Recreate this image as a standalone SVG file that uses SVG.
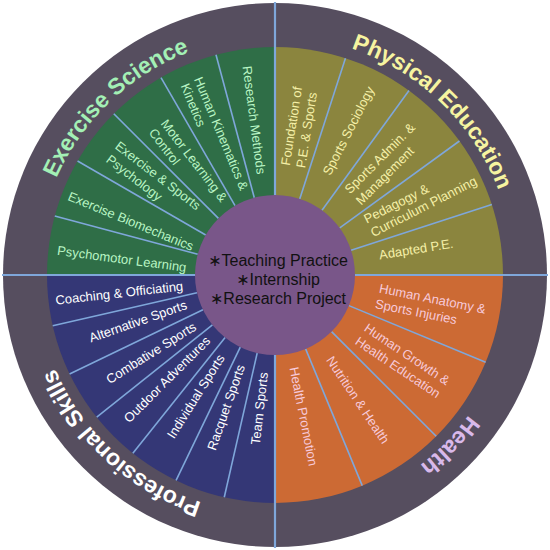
<svg xmlns="http://www.w3.org/2000/svg" width="550" height="550" viewBox="0 0 550 550">
<style>
.lbl{font-family:"Liberation Sans",Arial,sans-serif;font-size:13px}
.ttl{font-family:"Liberation Sans",Arial,sans-serif;font-size:23px;font-weight:bold}
.g{fill:#b9f5c4}.o{fill:#f5f0a8}.n{fill:#ffffff}.r{fill:#f7c9da}
.div{stroke:#7fa7da;stroke-width:1.6}
.cross{stroke:#7fa7da;stroke-width:2.2}
.ctr{font-family:"Liberation Sans","DejaVu Sans",Arial,sans-serif;font-size:16px;fill:#111}
</style>
<defs>
<path id="ring" d="M514,275 A239,239 0 1 1 36,275 A239,239 0 1 1 514,275"/>
</defs>
<rect width="550" height="550" fill="#ffffff"/>
<circle id="outer-ring" cx="275" cy="275" r="272" fill="#564e5f"/>

<g id="exercise-science">
<path d="M275,275 L47,275 A228,228 0 0 1 275,47 Z" fill="#2f6e47"/>
<text class="ttl" fill="#a3f0b5"><textPath href="#ring" startOffset="62.9%" text-anchor="middle">Exercise Science</textPath></text>
<g transform="translate(275 275)">
<text class="lbl g" transform="rotate(7.5)" x="-219" y="8.5">Psychomotor Learning</text>
<text class="lbl g" transform="rotate(22.5)" x="-221" y="10">Exercise Biomechanics</text>
<text class="lbl g" transform="rotate(37.5)"><tspan x="-205" y="-3">Exercise &amp; Sports</tspan><tspan x="-204" y="13">Psychology</tspan></text>
<text class="lbl g" transform="rotate(52.5)"><tspan x="-190" y="-1">Motor Learning &amp;</tspan><tspan x="-190" y="14">Control</tspan></text>
<text class="lbl g" transform="rotate(67.5)"><tspan x="-212" y="0">Human Kinematics &amp;</tspan><tspan x="-211" y="15">Kinetics</tspan></text>
<text class="lbl g" transform="rotate(82.5)" x="-211" y="5">Research Methods</text>
</g>
</g>

<g id="physical-education">
<path d="M275,275 L275,47 A228,228 0 0 1 503,275 Z" fill="#8b853e"/>
<text class="ttl" fill="#f6f4a0"><textPath href="#ring" startOffset="87.2%" text-anchor="middle">Physical Education</textPath></text>
<g transform="translate(275 275)">
<text class="lbl o" transform="rotate(279)"><tspan x="110" y="-2.5">Foundation of</tspan><tspan x="110" y="13">P.E. &amp; Sports</tspan></text>
<text class="lbl o" transform="rotate(297)" x="113" y="4.5">Sports Sociology</text>
<text class="lbl o" transform="rotate(315)"><tspan x="110" y="-4">Sports Admin. &amp;</tspan><tspan x="110" y="12">Management</tspan></text>
<text class="lbl o" transform="rotate(333)"><tspan x="105" y="-4">Pedagogy &amp;</tspan><tspan x="105" y="11">Curriculum Planning</tspan></text>
<text class="lbl o" transform="rotate(351)" x="106" y="1">Adapted P.E.</text>
</g>
</g>

<g id="health">
<path d="M275,275 L503,275 A228,228 0 0 1 275,503 Z" fill="#cc6a34"/>
<text class="ttl" fill="#d9b9ea"><textPath href="#ring" startOffset="12.3%" text-anchor="middle">Health</textPath></text>
<g transform="translate(275 275)">
<text class="lbl r" transform="rotate(11.25)"><tspan x="105" y="-3">Human Anatomy &amp;</tspan><tspan x="104" y="13">Sports Injuries</tspan></text>
<text class="lbl r" transform="rotate(33.75)"><tspan x="104" y="-3">Human Growth &amp;</tspan><tspan x="104" y="13">Health Education</tspan></text>
<text class="lbl r" transform="rotate(56.25)" x="99" y="5">Nutrition &amp; Health</text>
<text class="lbl r" transform="rotate(78.75)" x="94" y="4">Health Promotion</text>
</g>
</g>

<g id="professional-skills">
<path d="M275,275 L275,503 A228,228 0 0 1 47,275 Z" fill="#343776"/>
<text class="ttl" fill="#ffffff"><textPath href="#ring" startOffset="36.8%" text-anchor="middle">Professional Skills</textPath></text>
<g transform="translate(275 275)">
<text class="lbl n" transform="rotate(-6.43)" x="-221" y="5">Coaching &amp; Officiating</text>
<text class="lbl n" transform="rotate(-19.29)" x="-196" y="3">Alternative Sports</text>
<text class="lbl n" transform="rotate(-32.14)" x="-198" y="4.5">Combative Sports</text>
<text class="lbl n" transform="rotate(-45)" x="-208" y="2">Outdoor Adventures</text>
<text class="lbl n" transform="rotate(-57.86)" x="-193" y="2">Individual Sports</text>
<text class="lbl n" transform="rotate(-70.71)" x="-186" y="2">Racquet Sports</text>
<text class="lbl n" transform="rotate(-83.57)" x="-171" y="4">Team Sports</text>
</g>
</g>

<g id="connectors">
<g transform="translate(275 275)">
<line class="div" x1="80" y1="0" x2="228" y2="0" transform="rotate(195)"/>
<line class="div" x1="80" y1="0" x2="228" y2="0" transform="rotate(210)"/>
<line class="div" x1="80" y1="0" x2="228" y2="0" transform="rotate(225)"/>
<line class="div" x1="80" y1="0" x2="228" y2="0" transform="rotate(240)"/>
<line class="div" x1="80" y1="0" x2="228" y2="0" transform="rotate(255)"/>
<line class="div" x1="80" y1="0" x2="228" y2="0" transform="rotate(288)"/>
<line class="div" x1="80" y1="0" x2="228" y2="0" transform="rotate(306)"/>
<line class="div" x1="80" y1="0" x2="228" y2="0" transform="rotate(324)"/>
<line class="div" x1="80" y1="0" x2="228" y2="0" transform="rotate(342)"/>
<line class="div" x1="80" y1="0" x2="228" y2="0" transform="rotate(22.5)"/>
<line class="div" x1="80" y1="0" x2="228" y2="0" transform="rotate(45)"/>
<line class="div" x1="80" y1="0" x2="228" y2="0" transform="rotate(67.5)"/>
<line class="div" x1="80" y1="0" x2="228" y2="0" transform="rotate(102.857)"/>
<line class="div" x1="80" y1="0" x2="228" y2="0" transform="rotate(115.714)"/>
<line class="div" x1="80" y1="0" x2="228" y2="0" transform="rotate(128.571)"/>
<line class="div" x1="80" y1="0" x2="228" y2="0" transform="rotate(141.429)"/>
<line class="div" x1="80" y1="0" x2="228" y2="0" transform="rotate(154.286)"/>
<line class="div" x1="80" y1="0" x2="228" y2="0" transform="rotate(167.143)"/>
</g>
<line class="cross" x1="275" y1="2" x2="275" y2="548"/>
<line class="cross" x1="2" y1="275" x2="548" y2="275"/>
</g>

<g id="center">
<circle cx="275" cy="275" r="80" fill="#795689"/>
<text class="ctr" text-anchor="middle" x="278" y="266">∗Teaching Practice</text>
<text class="ctr" text-anchor="middle" x="278" y="285">∗Internship</text>
<text class="ctr" text-anchor="middle" x="278" y="304">∗Research Project</text>
</g>
</svg>
